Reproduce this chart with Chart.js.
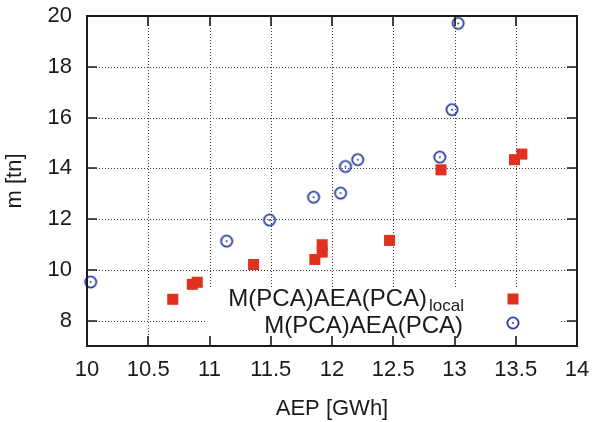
<!DOCTYPE html>
<html>
<head>
<meta charset="utf-8">
<script src="https://cdn.jsdelivr.net/npm/chart.js@4/dist/chart.umd.min.js"></script>
<style>
  html, body { margin: 0; padding: 0; background: #fff; }
  #wrap { width: 592px; height: 422px; }
</style>
</head>
<body>
<div id="wrap"><canvas id="chart" width="592" height="422"></canvas></div>
<script>
// AEP vs mass, two model variants
const xLocal = [10.70, 10.86, 10.90, 11.36, 11.86, 11.92, 11.92, 12.47, 12.89, 13.49, 13.55];
const yLocal = [8.84, 9.43, 9.51, 10.21, 10.41, 10.70, 10.99, 11.16, 13.94, 14.34, 14.56];
const xPca = [10.03, 11.14, 11.49, 11.85, 12.07, 12.11, 12.21, 12.88, 12.98, 13.03];
const yPca = [9.52, 11.13, 11.96, 12.86, 13.02, 14.07, 14.34, 14.44, 16.31, 19.71];
const xTicks = [10, 10.5, 11, 11.5, 12, 12.5, 13, 13.5, 14];
const yTicks = [8, 10, 12, 14, 16, 18, 20];

const RED = '#e0301e';
const BLUE = '#2b3d9e';
const FONT = '"Liberation Sans", Arial, sans-serif';

// circle with a dot in the middle
function dotCircle() {
  const c = document.createElement('canvas');
  c.width = 16; c.height = 16;
  const g = c.getContext('2d');
  g.strokeStyle = BLUE;
  g.lineWidth = 1.8;
  g.beginPath();
  g.arc(8, 8, 5.6, 0, Math.PI * 2);
  g.stroke();
  g.fillStyle = BLUE;
  g.beginPath();
  g.arc(8, 8, 1, 0, Math.PI * 2);
  g.fill();
  return c;
}
const circleImg = dotCircle();

const toPoints = (xs, ys) => xs.map((v, i) => ({ x: v, y: ys[i] }));

// fixed axis box, no extra label padding
const fitAxis = (s, size) => {
  if (s.isHorizontal()) s.height = size; else s.width = size;
  s.paddingTop = 0; s.paddingBottom = 0; s.paddingLeft = 0; s.paddingRight = 0;
};

const frame = {
  id: 'frame',
  beforeDatasetsDraw(chart) {
    const { ctx, chartArea: a, scales: { x, y } } = chart;
    ctx.save();
    ctx.strokeStyle = '#3a3a3a';
    ctx.lineWidth = 1;
    ctx.setLineDash([1, 2]);
    xTicks.forEach(v => {
      if (v <= x.min || v >= x.max) return;
      const px = Math.round(x.getPixelForValue(v)) + 0.5;
      ctx.beginPath(); ctx.moveTo(px, a.top); ctx.lineTo(px, a.bottom); ctx.stroke();
    });
    yTicks.forEach(v => {
      if (v <= y.min || v >= y.max) return;
      const py = Math.round(y.getPixelForValue(v)) + 0.5;
      ctx.beginPath(); ctx.moveTo(a.left, py); ctx.lineTo(a.right, py); ctx.stroke();
    });
    // legend background
    ctx.fillStyle = '#fff';
    ctx.fillRect(a.left + 118, a.bottom - 58, a.width - 134, 58);
    ctx.restore();
  },
  afterDatasetsDraw(chart) {
    const { ctx, chartArea: a } = chart;
    ctx.save();
    ctx.fillStyle = '#1a1a1a';
    ctx.textAlign = 'right';
    ctx.textBaseline = 'alphabetic';
    const tx = a.right - 114;
    ctx.font = '17px ' + FONT;
    const subW = ctx.measureText('local').width;
    ctx.fillText('local', tx + 1, a.bottom - 35);
    ctx.font = '24px ' + FONT;
    ctx.fillText('M(PCA)AEA(PCA)', tx - subW - 1, a.bottom - 40);
    ctx.fillText('M(PCA)AEA(PCA)', tx, a.bottom - 13);
    // legend symbols
    const mx = a.right - 64;
    ctx.fillStyle = RED;
    ctx.fillRect(mx - 5.5, a.bottom - 52.5, 11, 11);
    ctx.drawImage(circleImg, mx - 8, a.bottom - 31);
    ctx.restore();
  },
  afterDraw(chart) {
    const { ctx, chartArea: a, scales: { x, y } } = chart;
    ctx.save();
    ctx.strokeStyle = '#1a1a1a';
    ctx.lineWidth = 1.6;
    const t = 10;
    xTicks.forEach(v => {
      const px = Math.round(x.getPixelForValue(v));
      ctx.beginPath();
      ctx.moveTo(px, a.bottom); ctx.lineTo(px, a.bottom - t);
      ctx.moveTo(px, a.top); ctx.lineTo(px, a.top + t);
      ctx.stroke();
    });
    yTicks.forEach(v => {
      const py = Math.round(y.getPixelForValue(v));
      ctx.beginPath();
      ctx.moveTo(a.left, py); ctx.lineTo(a.left + t, py);
      ctx.moveTo(a.right, py); ctx.lineTo(a.right - t, py);
      ctx.stroke();
    });
    ctx.lineWidth = 2;
    ctx.strokeRect(a.left, a.top, a.width, a.height);
    ctx.restore();
  }
};

new Chart(document.getElementById('chart'), {
  type: 'scatter',
  data: {
    datasets: [
      {
        label: 'M(PCA)AEA(PCA)local',
        data: toPoints(xLocal, yLocal),
        pointStyle: 'rect',
        pointRadius: 7.8,
        backgroundColor: RED,
        borderWidth: 0
      },
      {
        label: 'M(PCA)AEA(PCA)',
        data: toPoints(xPca, yPca),
        pointStyle: circleImg,
        pointRadius: 6
      }
    ]
  },
  plugins: [frame],
  options: {
    responsive: false,
    animation: false,
    events: [],
    clip: false,
    layout: { padding: { top: 16, right: 15, left: 0, bottom: 0 } },
    plugins: { legend: { display: false }, tooltip: { enabled: false } },
    scales: {
      x: {
        type: 'linear',
        min: 10, max: 14,
        afterBuildTicks: s => { s.ticks = xTicks.map(v => ({ value: v })); },
        afterFit: s => fitAxis(s, 76),
        grid: { display: false, drawTicks: false },
        border: { display: false },
        ticks: {
          padding: 11,
          color: '#1a1a1a',
          font: { family: FONT, size: 22 },
          maxRotation: 0,
          callback: v => String(v)
        },
        title: {
          display: true,
          text: 'AEP [GWh]',
          color: '#1a1a1a',
          font: { family: FONT, size: 22 },
          padding: { top: 0, bottom: 0 }
        }
      },
      y: {
        type: 'linear',
        min: 7, max: 20,
        afterBuildTicks: s => { s.ticks = yTicks.map(v => ({ value: v })); },
        afterFit: s => fitAxis(s, 87),
        grid: { display: false, drawTicks: false },
        border: { display: false },
        ticks: {
          padding: 15,
          color: '#1a1a1a',
          font: { family: FONT, size: 22 },
          callback: v => String(v)
        },
        title: {
          display: true,
          text: 'm [tn]',
          color: '#1a1a1a',
          font: { family: FONT, size: 22 },
          padding: { top: 2, bottom: 0 }
        }
      }
    }
  }
});
</script>
</body>
</html>
